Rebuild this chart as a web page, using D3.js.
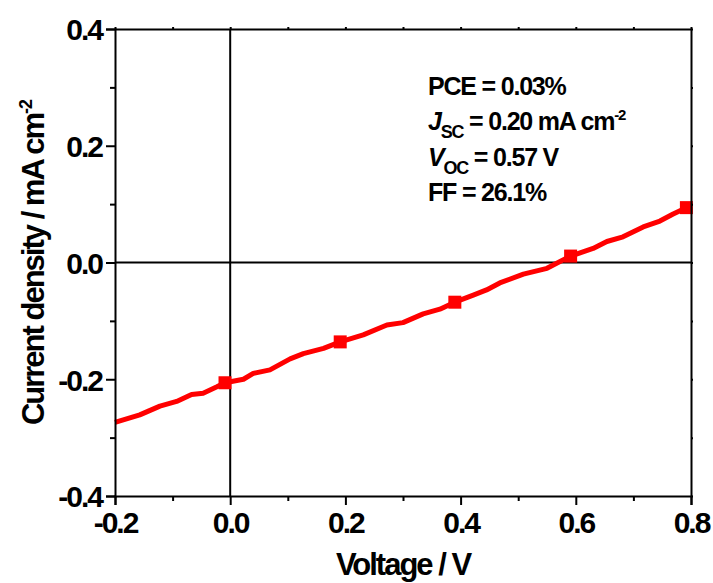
<!DOCTYPE html>
<html><head><meta charset="utf-8">
<script src="https://cdn.jsdelivr.net/npm/d3@7"></script>
<style>
html,body{margin:0;padding:0;background:#fff;}
text{font-family:"Liberation Sans",Arial,sans-serif;font-weight:bold;fill:#000;}
</style></head>
<body><svg id="c" width="713" height="583"></svg>
<script>
const voltage = [-0.2, -0.157, -0.122, -0.093, -0.067, -0.047, -0.023, -0.009, 0.023, 0.040, 0.069, 0.104, 0.127, 0.162, 0.191, 0.231, 0.272, 0.300, 0.335, 0.364, 0.390, 0.422, 0.445, 0.468, 0.509, 0.550, 0.591, 0.630, 0.654, 0.682, 0.717, 0.746, 0.769, 0.792];
const current = [-0.274, -0.261, -0.246, -0.238, -0.226, -0.224, -0.213, -0.206, -0.200, -0.190, -0.184, -0.165, -0.156, -0.147, -0.136, -0.124, -0.107, -0.103, -0.088, -0.080, -0.068, -0.056, -0.047, -0.035, -0.020, -0.010, 0.011, 0.024, 0.036, 0.044, 0.061, 0.071, 0.083, 0.094];
const markerV = [-0.009, 0.191, 0.390, 0.591, 0.792];
const markerJ = [-0.206, -0.136, -0.068, 0.011, 0.094];
const xTicks = [-0.2, 0.0, 0.2, 0.4, 0.6, 0.8];
const yTicks = [-0.4, -0.2, 0.0, 0.2, 0.4];
const xMinor = [-0.1, 0.1, 0.3, 0.5, 0.7];
const yMinor = [-0.3, -0.1, 0.1, 0.3];

const svg = d3.select("#c");
const L = 115, R = 691, T = 29, B = 496;
const x = d3.scaleLinear().domain([-0.2, 0.8]).range([L, R]);
const y = d3.scaleLinear().domain([-0.4, 0.4]).range([B, T]);

// zero lines
svg.append("line").attr("x1", x(0)).attr("x2", x(0)).attr("y1", T).attr("y2", B).attr("stroke", "#000").attr("stroke-width", 2);
svg.append("line").attr("x1", L).attr("x2", R).attr("y1", y(0)).attr("y2", y(0)).attr("stroke", "#000").attr("stroke-width", 2);

// data line
const line = d3.line().x((d, i) => x(voltage[i])).y((d, i) => y(current[i]));
svg.append("path").attr("d", line(voltage)).attr("fill", "none").attr("stroke", "#ff0000").attr("stroke-width", 5).attr("stroke-linejoin", "round");
svg.selectAll("rect.m").data(markerV).enter().append("rect").attr("class", "m")
  .attr("x", (d) => x(d) - 6.5).attr("y", (d, i) => y(markerJ[i]) - 6.5)
  .attr("width", 13).attr("height", 13).attr("fill", "#ff0000");

// axes
const fmt = (d) => d3.format(".1f")(d).replace("\u2212", "-");
const ax = (g) => g.selectAll(".domain").attr("stroke-width", 2);
const gBottom = svg.append("g").attr("transform", `translate(0,${B})`)
  .call(d3.axisBottom(x).tickValues(xTicks).tickFormat(fmt).tickSize(9).tickPadding(3));
gBottom.call(ax);
gBottom.selectAll(".tick line").attr("stroke-width", 2);
gBottom.selectAll("text").attr("font-size", 30).attr("dy", "0.82em").style("letter-spacing", "-2px");
svg.append("g").attr("transform", `translate(0,${B})`)
  .call(d3.axisBottom(x).tickValues(xMinor).tickFormat("").tickSize(5).tickSizeOuter(0))
  .call((g) => g.select(".domain").remove()).selectAll("line").attr("stroke-width", 2);

const gLeft = svg.append("g").attr("transform", `translate(${L},0)`)
  .call(d3.axisLeft(y).tickValues(yTicks).tickFormat(fmt).tickSize(9).tickPadding(4));
gLeft.call(ax);
gLeft.selectAll(".tick line").attr("stroke-width", 2);
gLeft.selectAll("text").attr("font-size", 30).attr("dy", "0.36em").style("letter-spacing", "-2px");
svg.append("g").attr("transform", `translate(${L},0)`)
  .call(d3.axisLeft(y).tickValues(yMinor).tickFormat("").tickSize(5).tickSizeOuter(0))
  .call((g) => g.select(".domain").remove()).selectAll("line").attr("stroke-width", 2);

const gTop = svg.append("g").attr("transform", `translate(0,${T})`)
  .call(d3.axisTop(x).tickValues(xTicks.concat(xMinor)).tickFormat("").tickSize(2).tickSizeOuter(0));
gTop.selectAll("path,line").attr("stroke-width", 2);
const gRight = svg.append("g").attr("transform", `translate(${R},0)`)
  .call(d3.axisRight(y).tickValues(yTicks.concat(yMinor)).tickFormat("").tickSize(2).tickSizeOuter(0));
gRight.selectAll("path,line").attr("stroke-width", 2);

// axis titles
svg.append("text").attr("x", (L + R) / 2).attr("y", 575).attr("text-anchor", "middle")
  .attr("font-size", 31).style("letter-spacing", "-2px").text("Voltage / V");
const yt = svg.append("text").attr("transform", `translate(44,${(T + B) / 2}) rotate(-90)`)
  .attr("text-anchor", "middle").attr("font-size", 31).style("letter-spacing", "-2px");
yt.append("tspan").text("Current density / mA cm");
yt.append("tspan").attr("font-size", 18).attr("dy", -12).style("letter-spacing", "-1px").text("-2");

// annotation
const ann = svg.append("g");
const st = (t) => t.attr("font-size", 25).style("letter-spacing", "-1.2px");
ann.append("text").attr("x", 428).attr("y", 95).call(st).text("PCE = 0.03%");
const a1 = ann.append("text").attr("x", 428).attr("y", 130).call(st);
a1.append("tspan").attr("font-style", "italic").text("J");
a1.append("tspan").attr("font-size", 18).attr("dy", 8).text("SC");
a1.append("tspan").attr("dy", -8).text(" = 0.20 mA cm");
a1.append("tspan").attr("font-size", 15).attr("dy", -10).text("-2");
const a2 = ann.append("text").attr("x", 428).attr("y", 166).call(st);
a2.append("tspan").attr("font-style", "italic").text("V");
a2.append("tspan").attr("font-size", 18).attr("dy", 8).text("OC");
a2.append("tspan").attr("dy", -8).text(" = 0.57 V");
ann.append("text").attr("x", 428).attr("y", 201).call(st).text("FF = 26.1%");
</script></body></html>
